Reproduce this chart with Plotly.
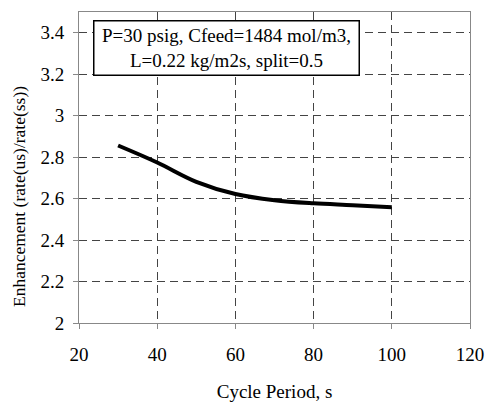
import plotly.graph_objects as go

cycle_period = [30, 40, 50, 60, 70, 80, 90, 100]
enhancement = [2.856, 2.774, 2.681, 2.622, 2.592, 2.577, 2.568, 2.558]

x_ticks = [20, 40, 60, 80, 100, 120]
y_ticks = [2, 2.2, 2.4, 2.6, 2.8, 3, 3.2, 3.4]
y_labels = ["2", "2.2", "2.4", "2.6", "2.8", "3", "3.2", "3.4"]

font = "Liberation Serif"

fig = go.Figure()
fig.add_trace(go.Scatter(
    x=cycle_period, y=enhancement, mode="lines",
    line=dict(color="black", width=4, shape="spline", smoothing=1.0),
    showlegend=False,
))

axis_common = dict(
    showline=True, linecolor="#888888", linewidth=1, mirror=True,
    showgrid=True, gridcolor="#444444", griddash="8px,5px", gridwidth=1,
    ticks="outside", ticklen=5, tickcolor="#888888",
    tickfont=dict(family=font, size=19, color="black"),
    zeroline=False, automargin=False,
)

fig.update_layout(
    width=485, height=404,
    margin=dict(l=79, r=15, t=12, b=81),
    paper_bgcolor="white", plot_bgcolor="white",
    font=dict(family=font, color="black"),
    xaxis=dict(range=[20, 120], tickvals=x_ticks, ticklabelstandoff=9,
               title=dict(text="Cycle Period, s", font=dict(family=font, size=19), standoff=20),
               **axis_common),
    yaxis=dict(range=[2, 3.5], tickvals=y_ticks, ticktext=y_labels, ticklabelstandoff=5,
               **axis_common),
    annotations=[
        dict(
            text="P=30 psig, Cfeed=1484 mol/m3,<br>L=0.22 kg/m2s, split=0.5",
            xref="paper", yref="paper", x=(93 - 79) / 391, y=(323 - 20) / 311,
            xanchor="left", yanchor="top", width=262, height=51,
            showarrow=False, align="center", valign="middle",
            font=dict(family=font, size=19, color="black"),
            bordercolor="black", borderwidth=1.5, borderpad=1, bgcolor="white",
        ),
        dict(
            text="Enhancement (rate(us)/rate(ss))",
            xref="paper", yref="paper", x=(19 - 79) / 391, y=(323 - 197) / 311,
            xanchor="center", yanchor="middle", textangle=-90,
            showarrow=False, font=dict(family=font, size=17.5, color="black"),
        ),
    ],
)

fig.write_html("out.html")
